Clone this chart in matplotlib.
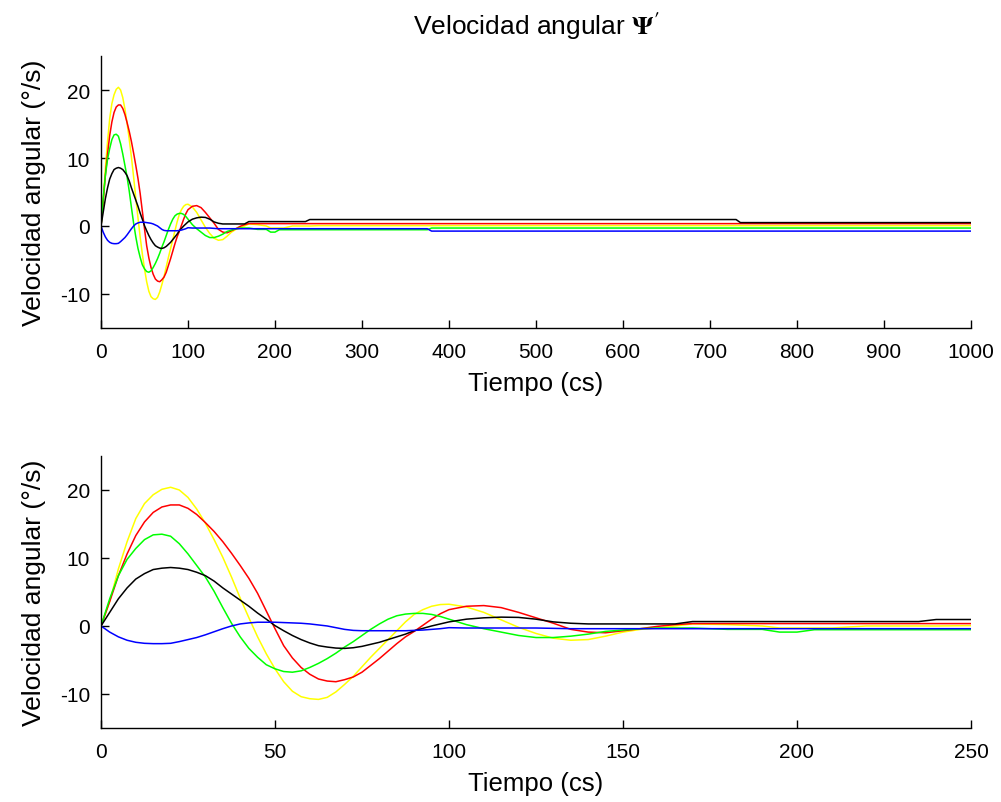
import matplotlib
matplotlib.use("Agg")
import matplotlib.pyplot as plt

plt.rcParams['font.family'] = ['Liberation Sans', 'DejaVu Sans']
plt.rcParams['mathtext.fontset'] = 'stix'
plt.rcParams['axes.unicode_minus'] = False

# time samples (cs)
t = [0, 2.5, 5, 7.5, 10, 12.5, 15, 17.5, 20, 22.5, 25, 27.5, 30, 32.5, 35, 37.5, 40, 42.5, 45, 47.5,
     50, 52.5, 55, 57.5, 60, 62.5, 65, 67.5, 70, 72.5, 75, 77.5, 80, 82.5, 85, 87.5, 90, 92.5, 95, 97.5, 100,
     105, 110, 115, 120, 125, 130, 135, 140, 145, 150, 155, 160,
     165, 170, 180, 190, 195, 200, 205, 210, 220, 230, 235, 240, 250, 300, 375, 380, 500, 730, 735, 1000]

yellow = [0, 3.6, 8.4, 12.4, 15.8, 18.0, 19.3, 20.1, 20.4, 20.0, 18.9, 17.2, 15.1, 12.7, 10.1, 7.2, 4.1, 1.2, -1.6, -4.1,
          -6.3, -8.2, -9.6, -10.4, -10.7, -10.8, -10.5, -9.7, -8.6, -7.4, -6.0, -4.6, -3.3, -2.0, -0.7, 0.6, 1.7, 2.4, 2.9, 3.15, 3.2,
          2.8, 2.0, 0.9, -0.2, -1.1, -1.8, -2.1, -2.0, -1.5, -0.9, -0.5, -0.3,
          0.0, 0.3, 0.2, 0.0, -0.3, -0.3, -0.3, -0.3, 0.0, 0.0, 0.0, 0.0, 0.05, 0.05, 0.05, 0.05, 0.05, 0.05, 0.05, 0.05]

red = [0, 3.6, 7.4, 10.6, 13.3, 15.3, 16.7, 17.5, 17.8, 17.8, 17.3, 16.4, 15.2, 13.9, 12.4, 10.7, 8.9, 7.0, 4.8, 2.2,
       -0.4, -2.9, -4.7, -6.1, -7.1, -7.8, -8.1, -8.2, -7.9, -7.5, -6.8, -5.8, -4.8, -3.7, -2.6, -1.6, -0.8, 0.1, 1.0, 1.8, 2.4,
       2.9, 3.0, 2.7, 2.0, 1.2, 0.4, -0.5, -0.9, -1.0, -0.7, -0.4, -0.05,
       0.2, 0.35, 0.35, 0.35, 0.35, 0.35, 0.35, 0.35, 0.35, 0.35, 0.35, 0.35, 0.35, 0.35, 0.35, 0.35, 0.35, 0.35, 0.35, 0.35]

green = [0, 4.0, 7.4, 9.8, 11.4, 12.7, 13.4, 13.5, 13.2, 12.1, 10.6, 8.9, 7.2, 5.1, 2.7, 0.4, -1.6, -3.3, -4.6, -5.7,
         -6.3, -6.7, -6.8, -6.6, -6.1, -5.5, -4.8, -4.0, -3.1, -2.3, -1.4, -0.5, 0.3, 1.0, 1.5, 1.75, 1.85, 1.85, 1.7, 1.4, 1.0,
         0.2, -0.4, -0.9, -1.4, -1.7, -1.7, -1.5, -1.2, -0.8, -0.6, -0.4, -0.3,
         -0.3, -0.3, -0.5, -0.5, -0.9, -0.9, -0.55, -0.55, -0.55, -0.55, -0.55, -0.55, -0.55, -0.55, -0.55, -0.3, -0.3, -0.3, -0.3, -0.3]

black = [0, 2.0, 4.0, 5.6, 6.9, 7.7, 8.3, 8.5, 8.6, 8.5, 8.3, 7.9, 7.4, 6.6, 5.6, 4.7, 3.8, 2.9, 1.9, 1.0,
         0.05, -0.7, -1.4, -2.0, -2.5, -2.9, -3.1, -3.25, -3.3, -3.2, -3.0, -2.7, -2.4, -2.0, -1.6, -1.2, -0.7, -0.35, 0.0, 0.3, 0.6,
         1.0, 1.2, 1.3, 1.26, 1.0, 0.6, 0.4, 0.3, 0.3, 0.3, 0.3, 0.3,
         0.3, 0.65, 0.65, 0.65, 0.65, 0.65, 0.65, 0.65, 0.65, 0.65, 0.65, 0.95, 0.95, 0.95, 0.95, 0.95, 0.95, 0.95, 0.5, 0.5]

blue = [0, -0.9, -1.6, -2.1, -2.4, -2.55, -2.6, -2.6, -2.55, -2.3, -2.0, -1.7, -1.3, -0.85, -0.4, 0.0, 0.3, 0.45, 0.55, 0.55,
        0.55, 0.5, 0.45, 0.4, 0.3, 0.15, 0.0, -0.25, -0.5, -0.65, -0.7, -0.7, -0.7, -0.7, -0.7, -0.7, -0.65, -0.6, -0.5, -0.4, -0.25,
        -0.3, -0.3, -0.3, -0.3, -0.3, -0.35, -0.4, -0.4, -0.4, -0.4, -0.4, -0.4,
        -0.4, -0.4, -0.4, -0.4, -0.4, -0.4, -0.4, -0.4, -0.4, -0.4, -0.4, -0.4, -0.4, -0.4, -0.4, -0.75, -0.75, -0.75, -0.75, -0.75]

series = [(yellow, '#ffff00'), (red, '#ff0000'), (green, '#00ff00'), (black, '#000000'), (blue, '#0000ff')]

title = r"Velocidad angular $\mathbf{\Psi'}$"
xlabel = "Tiempo (cs)"
ylabel = "Velocidad angular (°/s)"
yticks = [-10, 0, 10, 20]
xticks_top = [0, 100, 200, 300, 400, 500, 600, 700, 800, 900, 1000]
xticks_bot = [0, 50, 100, 150, 200, 250]

fig = plt.figure(figsize=(10.01, 8.03), dpi=100)
ax1 = fig.add_axes([0.1009, 0.5903, 0.8691, 0.3387])
ax2 = fig.add_axes([0.1009, 0.0922, 0.8691, 0.3387])

for ax, xmax, xt in [(ax1, 1000, xticks_top), (ax2, 250, xticks_bot)]:
    for vals, c in series:
        ax.plot(t, vals, color=c, lw=1.1)
    ax.set_xlim(0, xmax)
    ax.set_ylim(-15, 25)
    ax.set_xticks(xt)
    ax.set_yticks(yticks)
    ax.spines['top'].set_visible(False)
    ax.spines['right'].set_visible(False)
    for s in ['left', 'bottom']:
        ax.spines[s].set_linewidth(1.0)
    ax.tick_params(direction='in', length=6, width=1.0, labelsize=15)
    ax.tick_params(axis='x', pad=10)
    ax.tick_params(axis='y', pad=8)
    ax.set_xlabel(xlabel, fontsize=18.5, labelpad=7)
    ax.set_ylabel(ylabel, fontsize=19, labelpad=10)

ax1.set_title(title, fontsize=19, pad=16)

fig.savefig("out.png", dpi=100)
